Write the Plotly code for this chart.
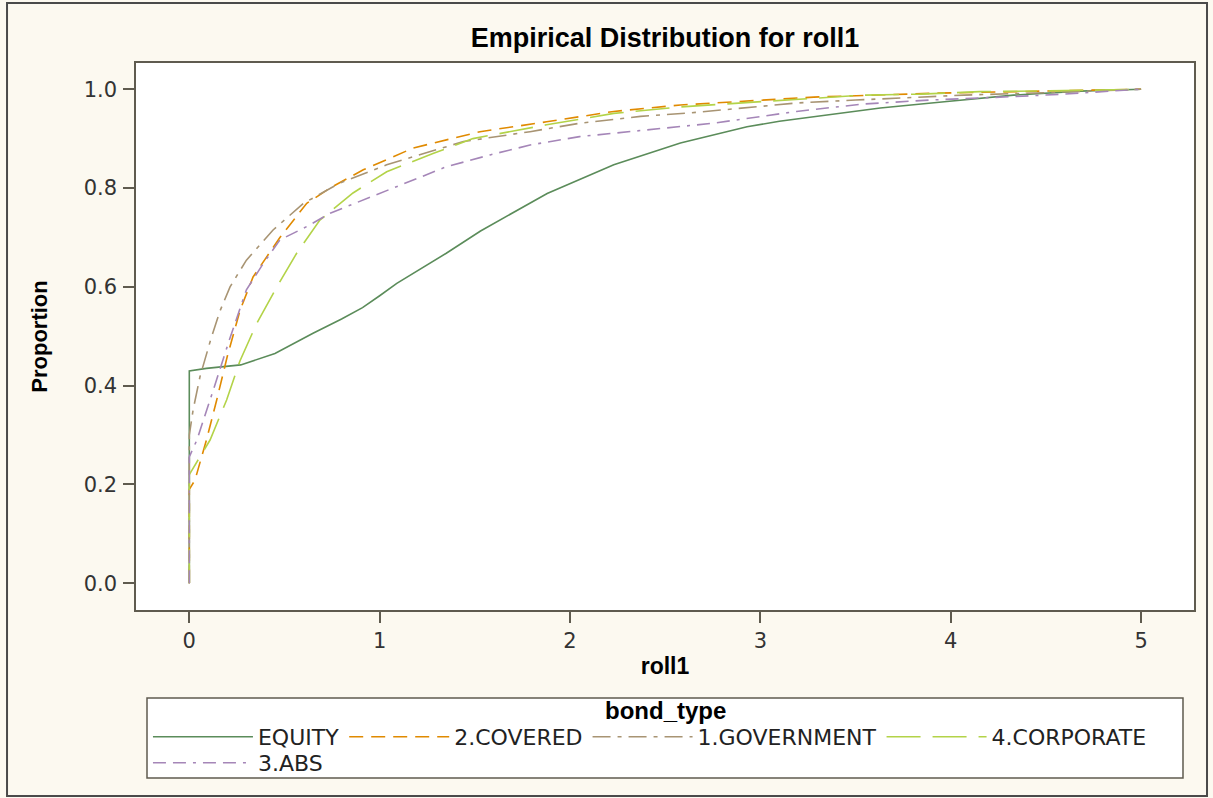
import plotly.graph_objects as go

# ECDF knots, per bond_type
equity_x = [0, 0, 0.09, 0.27, 0.45, 0.65, 0.80, 0.91, 1.0, 1.09, 1.35, 1.53, 1.88, 2.23,
            2.58, 2.93, 3.10, 3.40, 3.63, 3.98, 4.33, 4.68, 5.0]
equity_y = [0, 0.43, 0.435, 0.442, 0.465, 0.506, 0.535, 0.558, 0.582, 0.607, 0.668, 0.713,
            0.789, 0.847, 0.891, 0.924, 0.935, 0.951, 0.962, 0.975, 0.988, 0.996, 1.0]

covered_x = [0, 0, 0.03, 0.09, 0.144, 0.20, 0.267, 0.335, 0.476, 0.617, 0.74, 0.914, 1.177,
             1.527, 1.877, 2.23, 2.58, 3.01, 3.28, 3.93, 4.5, 5.0]
covered_y = [0, 0.19, 0.209, 0.29, 0.371, 0.46, 0.553, 0.62, 0.70, 0.769, 0.80, 0.837, 0.881,
             0.914, 0.934, 0.955, 0.968, 0.978, 0.984, 0.992, 0.997, 1.0]

govt_x = [0, 0, 0.02, 0.056, 0.11, 0.16, 0.214, 0.30, 0.44, 0.60, 0.79, 1.037, 1.44, 1.79,
          2.05, 2.37, 2.66, 3.01, 3.19, 3.5, 4.07, 4.5, 5.0]
govt_y = [0, 0.30, 0.351, 0.418, 0.49, 0.55, 0.60, 0.654, 0.715, 0.769, 0.81, 0.847, 0.894,
          0.914, 0.931, 0.945, 0.953, 0.965, 0.972, 0.978, 0.988, 0.993, 1.0]

corp_x = [0, 0, 0.109, 0.196, 0.266, 0.354, 0.46, 0.564, 0.686, 0.86, 1.037, 1.28, 1.49,
          1.877, 2.23, 2.58, 3.01, 3.54, 3.84, 4.15, 4.6, 5.0]
corp_y = [0, 0.22, 0.29, 0.371, 0.45, 0.526, 0.60, 0.668, 0.735, 0.79, 0.833, 0.87, 0.90,
          0.928, 0.951, 0.964, 0.975, 0.988, 0.99, 0.995, 0.997, 1.0]

abs_x = [0, 0, 0.04, 0.07, 0.126, 0.16, 0.21, 0.30, 0.39, 0.476, 0.617, 0.74, 0.914, 1.14,
         1.35, 1.58, 1.79, 2.05, 2.40, 2.75, 3.01, 3.19, 3.54, 3.89, 4.33, 4.59, 5.0]
abs_y = [0, 0.256, 0.29, 0.324, 0.391, 0.432, 0.492, 0.594, 0.648, 0.695, 0.722, 0.749,
         0.776, 0.81, 0.843, 0.867, 0.887, 0.904, 0.918, 0.931, 0.945, 0.955, 0.970, 0.978,
         0.985, 0.99, 1.0]

# name, x, y, colour, dash, which legend row
series = [
    ("EQUITY", equity_x, equity_y, "#5b8c5a", "solid", "legend"),
    ("2.COVERED", covered_x, covered_y, "#e08a00", "14px,8px", "legend"),
    ("1.GOVERNMENT", govt_x, govt_y, "#a89473", "18px,7px,4px,7px", "legend"),
    ("4.CORPORATE", corp_x, corp_y, "#b3d348", "34px,12px", "legend"),
    ("3.ABS", abs_x, abs_y, "#a586b8", "13px,7px,13px,7px,3px,7px", "legend2"),
]

REG = "DejaVu Sans, Verdana, sans-serif"
BOLD = "Liberation Sans, Arial, sans-serif"
AXIS = "#5f5b4f"

fig = go.Figure()
for name, xs, ys, color, dash, leg in series:
    fig.add_trace(go.Scatter(x=xs, y=ys, name=name, mode="lines", legend=leg,
                             line=dict(color=color, width=1.6, dash=dash)))

axis_common = dict(showline=True, linecolor=AXIS, linewidth=1.5, mirror=True,
                   ticks="outside", ticklen=11, tickcolor=AXIS, tickwidth=1.5,
                   showgrid=False, zeroline=False,
                   tickfont=dict(family=REG, size=21, color="#333"))

fig.update_xaxes(range=[-0.28, 5.278], tickvals=[0, 1, 2, 3, 4, 5],
                 ticklabelstandoff=0,
                 title=dict(text="<b>roll1</b>", standoff=6,
                            font=dict(family=BOLD, size=23, color="#000")),
                 **axis_common)
fig.update_yaxes(range=[-0.054, 1.053], tickvals=[0, 0.2, 0.4, 0.6, 0.8, 1.0],
                 tickformat=".1f", ticklabelstandoff=2,
                 title=dict(text="<b>Proportion</b>", standoff=30,
                            font=dict(family=BOLD, size=22, color="#000")),
                 **axis_common)

legend_common = dict(orientation="h", xanchor="left", yanchor="middle",
                     bgcolor="rgba(0,0,0,0)", borderwidth=0, itemwidth=100,
                     font=dict(family=REG, size=22, color="#222"))

fig.update_layout(
    width=1213, height=798,
    paper_bgcolor="#fcf9f0", plot_bgcolor="#ffffff",
    margin=dict(l=136, r=19, t=63, b=188),
    title=dict(text="<b>Empirical Distribution for roll1</b>", x=0.5, xref="paper",
               y=1 - 38 / 798, yanchor="middle",
               font=dict(family=BOLD, size=27, color="#000")),
    legend=dict(x=0.0113, y=-0.2322, **legend_common),
    legend2=dict(x=0.0113, y=-0.2797, **legend_common),
    annotations=[dict(text="<b>bond_type</b>", xref="paper", yref="paper",
                      x=0.5, y=-0.1846, xanchor="center", yanchor="middle",
                      showarrow=False, font=dict(family=BOLD, size=24, color="#000"))],
    shapes=[
        # legend box
        dict(type="rect", xref="paper", yref="paper",
             x0=0.0104, x1=0.9896, y0=-0.3071, y1=-0.1609,
             fillcolor="#ffffff", line=dict(color=AXIS, width=1.5)),
        # outer frame
        dict(type="rect", xref="paper", yref="paper",
             x0=-0.1219, x1=1.0123, y0=-0.340, y1=1.1097,
             line=dict(color="#4a4a4a", width=2)),
    ],
)

# drop the default 8px body margin so the figure sits flush in the window
fig.write_html("out.html", config={"displayModeBar": False},
               post_script="document.body.style.margin='0';")
